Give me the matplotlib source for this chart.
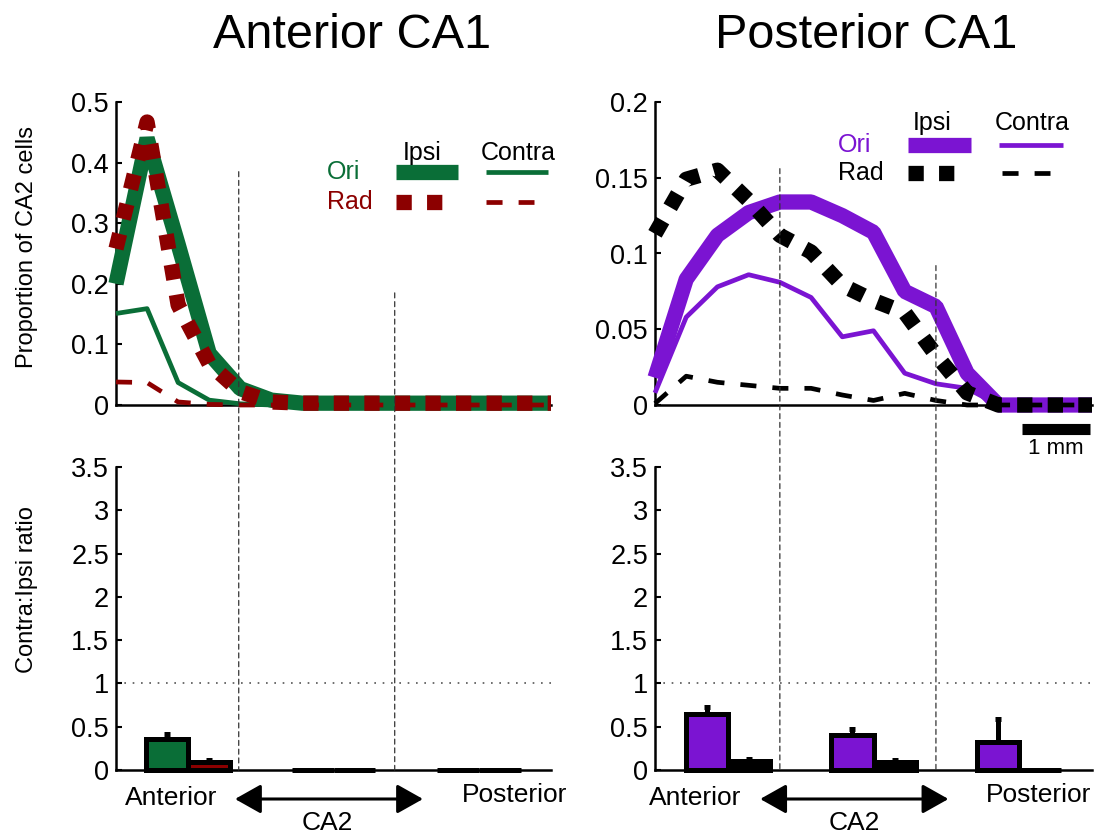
import numpy as np
import matplotlib
matplotlib.use('Agg')
import matplotlib.pyplot as plt
from matplotlib.patches import ConnectionPatch
from matplotlib.lines import Line2D

plt.rcParams['font.family'] = ['Liberation Sans', 'DejaVu Sans']

# posicion a lo largo del eje (15 bins)
pos = np.arange(15)

# Anterior CA1: proporcion de celulas CA2
ant_ori_ipsi = [0.20, 0.44, 0.265, 0.085, 0.027, 0.008, 0.003, 0.003, 0.003, 0.003, 0.003, 0.003, 0.003, 0.003, 0.003]
ant_ori_contra = [0.151, 0.159, 0.037, 0.008, 0.002, 0, 0, 0, 0, 0, 0, 0, 0, 0, 0]
ant_rad_ipsi = [0.258, 0.467, 0.165, 0.068, 0.022, 0.005, 0.003, 0.003, 0.003, 0.003, 0.003, 0.003, 0.003, 0.003, 0.003]
ant_rad_contra = [0.038, 0.037, 0.005, 0.001, 0, 0, 0, 0, 0, 0, 0, 0, 0, 0, 0]

# Posterior CA1
post_ori_ipsi = [0.018, 0.083, 0.112, 0.127, 0.134, 0.134, 0.125, 0.114, 0.075, 0.065, 0.021, 0, 0, 0, 0]
post_ori_contra = [0.008, 0.058, 0.078, 0.086, 0.081, 0.071, 0.045, 0.049, 0.021, 0.014, 0.011, 0, 0, 0, 0]
post_rad_ipsi = [0.113, 0.149, 0.155, 0.135, 0.112, 0.101, 0.079, 0.069, 0.061, 0.033, 0.008, 0, 0, 0, 0]
post_rad_contra = [0.001, 0.019, 0.015, 0.013, 0.011, 0.011, 0.0066, 0.003, 0.0077, 0.003, 0, 0, 0, 0, 0]

# limites de CA2 (lineas discontinuas)
ant_bounds = [3.95, 8.97]
ant_bounds_top = [0.385, 0.185]
post_bounds = [4.0, 9.0]
post_bounds_top = [0.156, 0.092]

# razon Contra:Ipsi (Anterior, CA2, Posterior)
groups = [2.33, 7.0, 11.67]
ant_ori_ratio = [0.356, 0, 0]
ant_ori_err = [0.055, 0, 0]
ant_rad_ratio = [0.088, 0, 0]
ant_rad_err = [0.027, 0, 0]
post_ori_ratio = [0.65, 0.406, 0.318]
post_ori_err = [0.08, 0.062, 0.268]
post_rad_ratio = [0.10, 0.088, 0]
post_rad_err = [0.026, 0.027, 0]

green = '#0a6e37'
red = '#8c0000'
purple = '#7b14d2'
bar_w = 1.35

W, H = 1107, 834
fig = plt.figure(figsize=(W / 100, H / 100), dpi=100)


def box(x0, y0, x1, y1):
    return [x0 / W, 1 - y1 / H, (x1 - x0) / W, (y1 - y0) / H]


def fp(x, y):
    return x / W, 1 - y / H


ax_tl = fig.add_axes(box(116, 102, 551, 405))
ax_tr = fig.add_axes(box(655, 102, 1092, 405))
ax_bl = fig.add_axes(box(116, 467, 551, 770))
ax_br = fig.add_axes(box(655, 467, 1092, 770))


def style(ax, ymax, yticks):
    ax.set_xlim(0, 14)
    ax.set_ylim(0, ymax)
    ax.set_yticks(yticks)
    ax.set_yticklabels(['%g' % t for t in yticks])
    ax.set_xticks([])
    for s in ['top', 'right']:
        ax.spines[s].set_visible(False)
    for s in ['left', 'bottom']:
        ax.spines[s].set_linewidth(1.8)
    ax.tick_params(axis='y', direction='in', length=4, width=1.5, labelsize=19.5, pad=5)
    ax.patch.set_alpha(0)


style(ax_tl, 0.5, [0, 0.1, 0.2, 0.3, 0.4, 0.5])
style(ax_tr, 0.2, [0, 0.05, 0.1, 0.15, 0.2])
style(ax_bl, 3.5, [0, 0.5, 1, 1.5, 2, 2.5, 3, 3.5])
style(ax_br, 3.5, [0, 0.5, 1, 1.5, 2, 2.5, 3, 3.5])


def curves(ax, ori_ipsi, ori_contra, rad_ipsi, rad_contra, c_ori, c_rad):
    ax.plot(pos, ori_ipsi, color=c_ori, lw=11, solid_joinstyle='bevel', solid_capstyle='butt', clip_on=False, zorder=3)
    ax.plot(pos, ori_contra, color=c_ori, lw=3.4, solid_capstyle='butt', clip_on=False, zorder=4)
    ax.plot(pos, rad_ipsi, color=c_rad, lw=11, dashes=(1, 1), dash_capstyle='butt', clip_on=False, zorder=5)
    ax.plot(pos, rad_contra, color=c_rad, lw=3.4, dashes=(3.4, 3.4), dash_capstyle='butt', clip_on=False, zorder=6)


curves(ax_tl, ant_ori_ipsi, ant_ori_contra, ant_rad_ipsi, ant_rad_contra, green, red)
curves(ax_tr, post_ori_ipsi, post_ori_contra, post_rad_ipsi, post_rad_contra, purple, 'black')


def bars(ax, ori, ori_err, rad, rad_err, c_ori, c_rad):
    xo = np.array(groups) - bar_w / 2
    xr = np.array(groups) + bar_w / 2
    ax.axhline(1, color='#555555', lw=1.2, ls=(0, (1, 4)), zorder=1)
    for xs, vals, errs, c in [(xo, ori, ori_err, c_ori), (xr, rad, rad_err, c_rad)]:
        ax.bar(xs, vals, bar_w, color=c, edgecolor='black', lw=3.6, zorder=4, clip_on=False)
        for x, v, e in zip(xs, vals, errs):
            if e > 0:
                ax.errorbar(x, v, yerr=[[0], [e]], color='black', lw=3.6, capsize=2.5, capthick=3.6, zorder=3)


bars(ax_bl, ant_ori_ratio, ant_ori_err, ant_rad_ratio, ant_rad_err, green, red)
bars(ax_br, post_ori_ratio, post_ori_err, post_rad_ratio, post_rad_err, purple, 'black')

# lineas discontinuas que cruzan ambos paneles
for ax_t, ax_b, xs, tops in [(ax_tl, ax_bl, ant_bounds, ant_bounds_top),
                             (ax_tr, ax_br, post_bounds, post_bounds_top)]:
    for x, y0 in zip(xs, tops):
        con = ConnectionPatch(xyA=(x, y0), coordsA=ax_t.transData, xyB=(x, 0), coordsB=ax_b.transData,
                              color='#333333', lw=0.9, ls=(0, (4, 3)), zorder=2)
        fig.add_artist(con)

# etiquetas debajo de las barras
for ax, xa, xp, xc, arr in [(ax_bl, 1.77, 12.84, 6.79, (3.83, 9.88)),
                            (ax_br, 1.3, 12.3, 6.4, (3.37, 9.4))]:
    ax.text(xa, -0.323, 'Anterior', ha='center', va='center', size=19, clip_on=False)
    ax.text(xp, -0.289, 'Posterior', ha='center', va='center', size=19, clip_on=False)
    ax.text(xc, -0.612, 'CA2', ha='center', va='center', size=19, clip_on=False)
    ax.annotate('', xy=(arr[1], -0.335), xytext=(arr[0], -0.335), annotation_clip=False,
                arrowprops=dict(arrowstyle='<|-|>,head_length=0.8,head_width=0.45', lw=2.2,
                                color='black', shrinkA=0, shrinkB=0, mutation_scale=20))

# barra de escala
ax_tr.plot([11.76, 13.94], [-0.0156, -0.0156], color='black', lw=8, solid_capstyle='butt', clip_on=False)
ax_tr.text(12.85, -0.029, '1 mm', ha='center', va='center', size=16, clip_on=False)

# leyendas
def legend(xt, x_ipsi, x_contra, y_head, y_ori, y_rad, c_ori, c_rad, thick, thin, sq, dash):
    fig.text(*fp(x_ipsi, y_head), 'Ipsi', ha='center', va='center', size=18)
    fig.text(*fp(x_contra, y_head), 'Contra', ha='center', va='center', size=18)
    fig.text(*fp(xt, y_ori), 'Ori', ha='left', va='center', size=18, color=c_ori)
    fig.text(*fp(xt, y_rad), 'Rad', ha='left', va='center', size=18, color=c_rad)
    for (x0, x1), y, kw in [(thick, y_ori, dict(color=c_ori, lw=11, solid_capstyle='butt')),
                            (thin, y_ori, dict(color=c_ori, lw=3.4, solid_capstyle='butt')),
                            (sq, y_rad, dict(color=c_rad, lw=11, dashes=(1, 1), dash_capstyle='butt')),
                            (dash, y_rad, dict(color=c_rad, lw=3.4, dashes=(3.4, 3.4), dash_capstyle='butt'))]:
        a, b = fp(x0, y)
        c, d = fp(x1, y)
        fig.add_artist(Line2D([a, c], [b, d], transform=fig.transFigure, **kw))


legend(327, 422, 518, 153, 172, 202, green, red, (396, 458), (486, 548), (396, 443), (486, 534))
legend(838, 932, 1032, 123, 145, 173, purple, 'black', (908, 971), (999, 1063), (908, 956), (1002, 1050))

# titulos y etiquetas de ejes
fig.text(*fp(352, 35), 'Anterior CA1', ha='center', va='center', size=35)
fig.text(*fp(866, 35), 'Posterior CA1', ha='center', va='center', size=35)
fig.text(*fp(27, 247), 'Proportion of CA2 cells', rotation=90, ha='center', va='center', size=17)
fig.text(*fp(27, 590), 'Contra:Ipsi ratio', rotation=90, ha='center', va='center', size=17)

fig.savefig('out.png', dpi=100)
